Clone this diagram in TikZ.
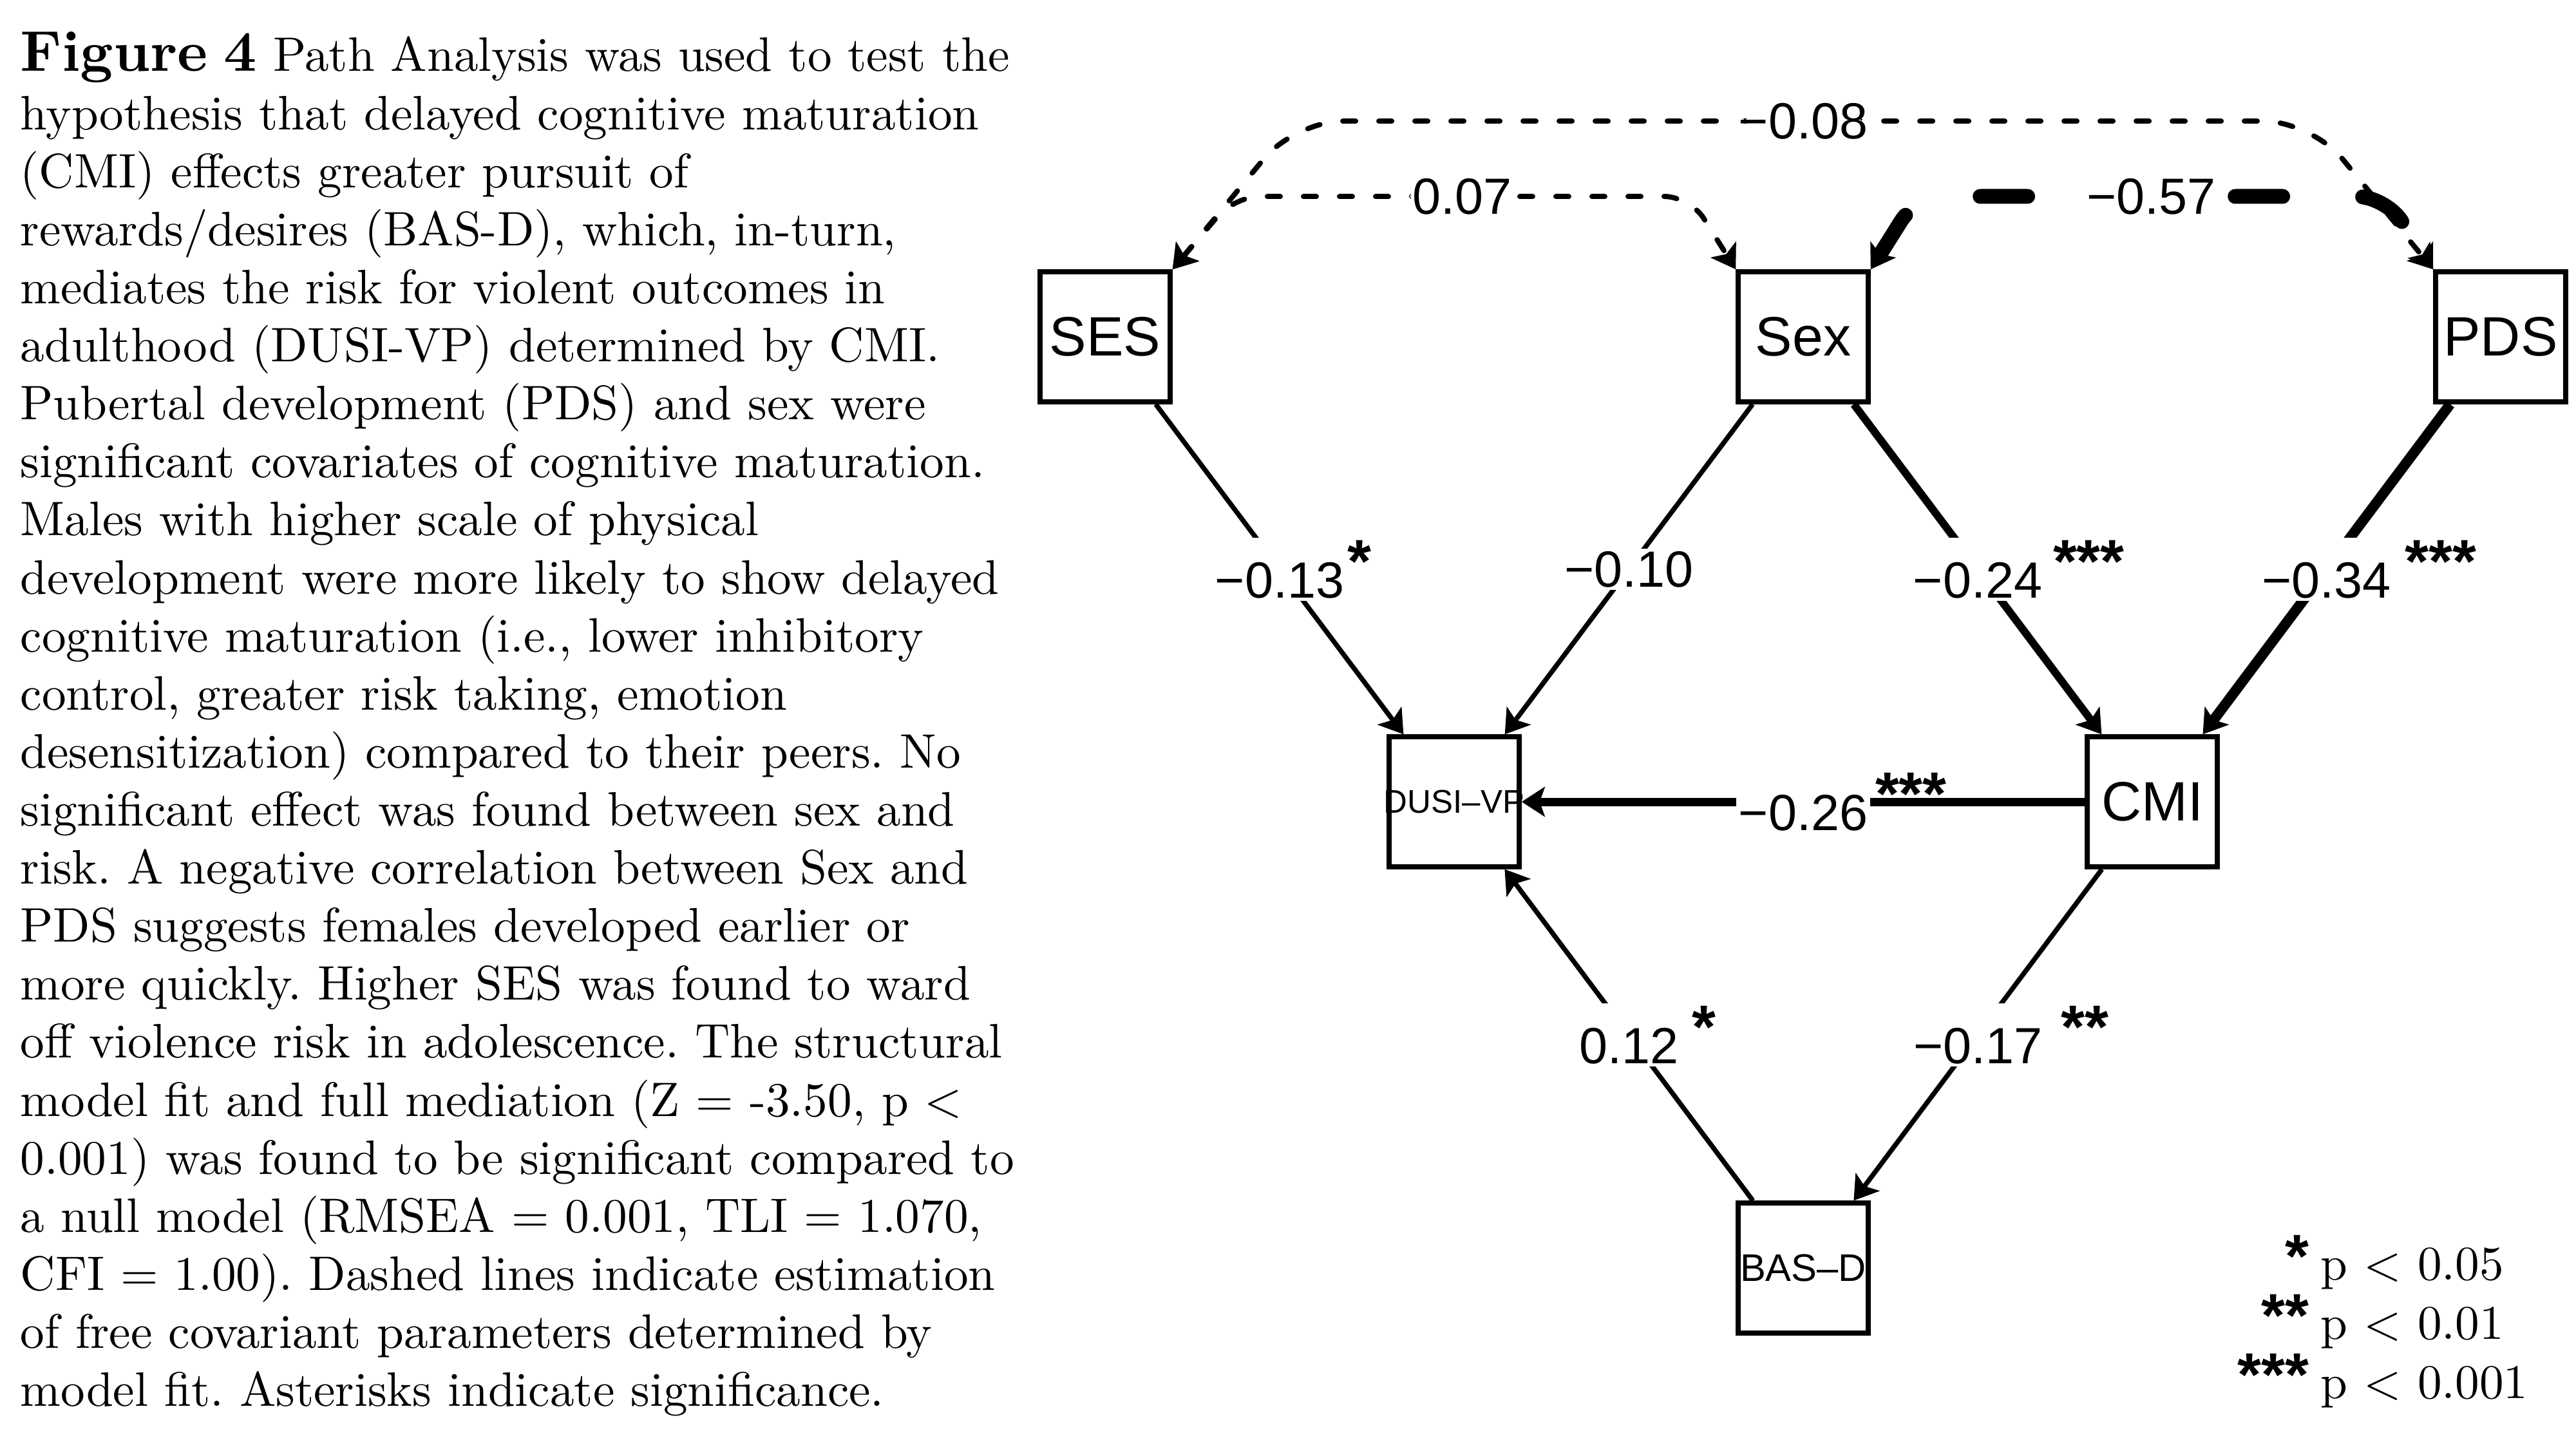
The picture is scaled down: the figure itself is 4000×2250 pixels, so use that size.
\documentclass[tikz,border=0pt]{standalone}
\usepackage{fontspec}
\setmainfont{lmroman10-regular.otf}[BoldFont=lmroman10-bold.otf]
\newfontfamily\helv{Liberation Sans}
\usepackage{tikz}
\usetikzlibrary{arrows.meta,positioning,calc}

% 显著性星号（不占宽度）
\newcommand{\sig}[2]{\rlap{\hspace{#1}\raisebox{2.4mm}{\fontsize{27}{30}\selectfont\bfseries #2}}}

\begin{document}
\frenchspacing
\begin{tikzpicture}[x=0.1mm, y=-0.1mm,
    varbox/.style={draw, line width=0.75mm, minimum width=20.2mm, minimum height=20.2mm,
                   inner sep=0pt, font=\helv\fontsize{24.5}{28}\selectfont},
    coef/.style={fill=white, inner sep=0.4mm, font=\helv\fontsize{22.5}{26}\selectfont},
    effarrow/.style={line width=#1, -{Stealth[length=3.6mm,width=4.6mm,inset=0.8mm]}},
    effarrow/.default=0.75mm,
    covthin/.style={line width=0.8mm, line cap=round, dash pattern=on 2mm off 3.6mm,
                    rounded corners=7.5mm,
                    {Stealth[length=3.6mm,width=4.6mm,inset=0.8mm]}-{Stealth[length=3.6mm,width=4.6mm,inset=0.8mm]}},
    covthick/.style={line width=2.3mm, line cap=round, dash pattern=on 7.4mm off 12.4mm,
                     rounded corners=4.5mm,
                     {Stealth[length=3.6mm,width=4.6mm,inset=0.8mm]}-{Stealth[length=3.6mm,width=4.6mm,inset=0.8mm]}},
    captext/.style={inner sep=0pt, font=\fontsize{21.4}{25.64}\selectfont}]

    \useasboundingbox (0,0) rectangle (4000,2250);

    % 图注文字
    \node[captext, anchor=base west, text width=170mm, align=left] (caption) at (31,111) {%
        {\fontsize{25.4}{25.64}\selectfont\bfseries Figure 4} Path Analysis was used to test the\\
        hypothesis that delayed cognitive maturation\\
        (CMI) effects greater pursuit of\\
        rewards/desires (BAS-D), which, in-turn,\\
        mediates the risk for violent outcomes in\\
        adulthood (DUSI-VP) determined by CMI.\\
        Pubertal development (PDS) and sex were\\
        significant covariates of cognitive maturation.\\
        Males with higher scale of physical\\
        development were more likely to show delayed\\
        cognitive maturation (i.e., lower inhibitory\\
        control, greater risk taking, emotion\\
        desensitization) compared to their peers. No\\
        significant effect was found between sex and\\
        risk. A negative correlation between Sex and\\
        PDS suggests females developed earlier or\\
        more quickly. Higher SES was found to ward\\
        off violence risk in adolescence. The structural\\
        model fit and full mediation (Z = -3.50, p <\\
        0.001) was found to be significant compared to\\
        a null model (RMSEA = 0.001, TLI = 1.070,\\
        CFI = 1.00). Dashed lines indicate estimation\\
        of free covariant parameters determined by\\
        model fit. Asterisks indicate significance.};

    % 变量方框
    \node[varbox] (ses) at (1716,523) {SES};
    \node[varbox] (sex) at (2800,523) {Sex};
    \node[varbox] (pds) at (3883,523) {PDS};
    \node[varbox, font=\helv\fontsize{14.5}{16}\selectfont] (dusi) at (2258,1245) {\makebox[0pt]{DUSI–VP}};
    \node[varbox] (cmi) at (3342,1245) {CMI};
    \node[varbox, font=\helv\fontsize{17}{19}\selectfont] (basd) at (2800,1969) {\makebox[0pt]{BAS–D}};

    % 路径系数（线宽随效应大小）
    \draw[effarrow] (ses) -- node[coef] {−0.13\sig{0.5mm}{*}} (dusi);
    \draw[effarrow] (sex) -- node[coef] {−0.10} (dusi);
    \draw[effarrow=1.2mm] (sex) -- node[coef] {−0.24\sig{1.7mm}{***}} (cmi);
    \draw[effarrow=1.6mm] (pds) -- node[coef] {−0.34\sig{2.2mm}{***}} (cmi);
    \draw[effarrow=1.3mm] (cmi) -- node[coef] {−0.26\sig{1.2mm}{***}} (dusi);
    \draw[effarrow] (basd) -- node[coef] {0.12\sig{2.1mm}{*}} (dusi);
    \draw[effarrow] (cmi) -- node[coef] {−0.17\sig{2.9mm}{**}} (basd);

    % 协方差（虚线双箭头）
    \draw[covthin] (ses.north east) -- (2011,188) -- node[coef] {−0.08} (3589,188) -- (pds.north west);
    \draw[covthin, rounded corners=4mm] (ses.north east) -- (1917,305) -- node[coef] {0.07} (2624,305) -- (sex.north west);
    \draw[covthick] (sex.north east) -- (2976,305) -- node[coef] {−0.57} (3704,305) -- (pds.north west);

    % 显著性图例
    \foreach \s/\pv/\yy [count=\i] in {*/0.05/1987, **/0.01/2079, ***/0.001/2171} {
        \node[captext, anchor=base west] (sig\i) at (3603,\yy)
            {\llap{\raisebox{0.4mm}{\helv\fontsize{27}{30}\selectfont\bfseries\s}\hspace{1.8mm}}p < \pv};
    }
\end{tikzpicture}
\end{document}
